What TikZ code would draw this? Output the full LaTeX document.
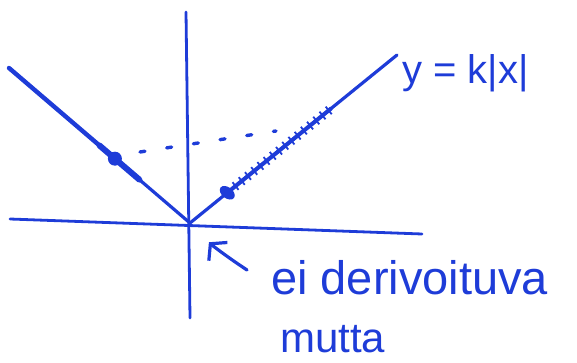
\documentclass[tikz,border=0pt]{standalone}
\usepackage{fontspec}
\setmainfont{Liberation Sans}
\usetikzlibrary{positioning, arrows.meta, calc}
\definecolor{cINK}{HTML}{1E3CD8}
\tikzset{
  axisline/.style={draw=cINK, line width=2.8pt, line cap=round},
  branch/.style={draw=cINK, line width=3.2pt, line cap=round},
  thickpart/.style={draw=cINK, line width=#1, line cap=round},
  tickmark/.style={draw=cINK, line width=1.8pt},
  dotline/.style={draw=cINK, line width=3.4pt, dash pattern=on 5pt off 22pt, line cap=round},
  blob/.style={fill=cINK},
  inktext/.style={text=cINK, font=\fontsize{#1}{#1}\selectfont, inner sep=0pt, anchor=base west},
  pointer/.style={
    draw=cINK, line width=3.2pt, line cap=round,
    -{Straight Barb[length=11pt,width=26pt,line width=3.2pt]}
  }
}

\begin{document}
\begin{tikzpicture}[x=1pt, y=-1pt]
  \useasboundingbox (0,0) rectangle (577,363);

  % axes
  \draw[axisline] (10,219) -- (422,234);
  \draw[axisline] (186,12) -- (190,318);

  % graph y = k|x|
  \coordinate (origin) at (190,223);
  \coordinate (ltop) at (9,68);
  \coordinate (rtop) at (397,55);
  \coordinate (lpt) at ($(origin)!0.415!(ltop)$);
  \coordinate (rpt) at ($(origin)!0.18!(rtop)$);
  \draw[branch] (ltop) -- (origin) -- (rtop);
  \draw[thickpart=4.4pt] ($(origin)!0.3!(ltop)$) -- (ltop);
  \draw[thickpart=6pt] ($(origin)!0.28!(ltop)$) -- ($(origin)!0.5!(ltop)$);
  \fill[blob] (lpt) circle (7);
  \draw[thickpart=4pt] (rpt) -- ($(origin)!0.68!(rtop)$);
  \fill[blob, rotate around={-38:(rpt)}] (rpt) ellipse (8.5 and 5.5);
  \foreach \t in {0.22,0.25,...,0.67}
    \draw[tickmark] ($(origin)!\t!(rtop)$) ++(-3,-3.8) -- ++(6,7.6);
  \draw[dotline] (140,152) -- (276,131);

  % labels
  \node[inktext=40] (eq) at (402,84) {y = k|x|};
  \node[inktext=47] (note) at (271,294) {ei derivoituva};
  \node[inktext=42] (but) at (280,352) {mutta};

  \coordinate (tail) at (247,270);
  \draw[pointer, shorten >=27pt] (tail) to[bend left=6] (origin);
\end{tikzpicture}
\end{document}
